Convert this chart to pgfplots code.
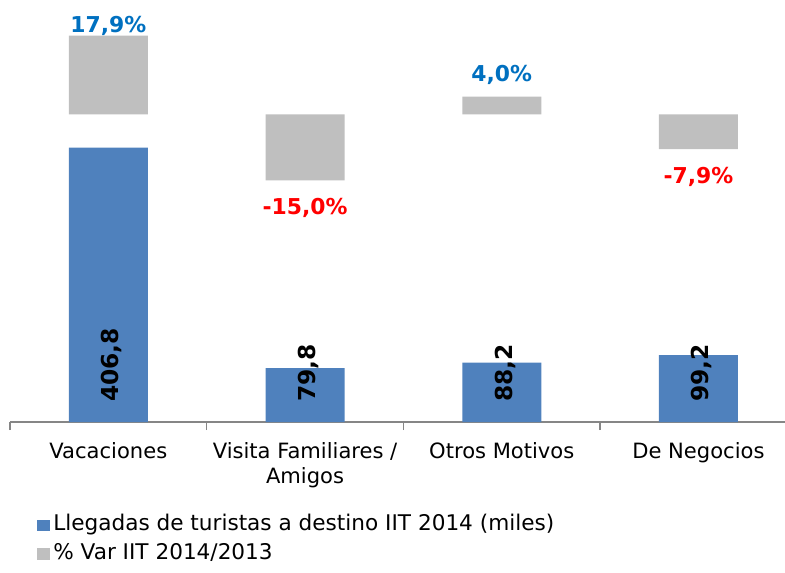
\documentclass[border=0pt]{standalone}
\usepackage{pgfplots}
\pgfplotsset{compat=1.18}
\usepackage{pgfplotstable}
\usepackage{fontspec}
\setmainfont{DejaVu Sans}
\definecolor{barblue}{HTML}{4F81BD}
\definecolor{bargray}{HTML}{BFBFBF}
\definecolor{axgray}{HTML}{868686}
\definecolor{posblue}{HTML}{0070C0}
\definecolor{negred}{HTML}{FF0000}
\newcommand{\lbl}{\fontsize{15.8pt}{18.75pt}\selectfont}
\newcommand{\leg}{\fontsize{16.2pt}{19pt}\selectfont}
\newcommand{\pct}{\fontsize{16.4pt}{19pt}\selectfont\bfseries}
\newcommand{\rotf}{\fontsize{17.5pt}{20pt}\selectfont\bfseries}

\pgfplotstableread{
x val lab base
0 406.8 406,8 0
1 79.8 79,8 0
2 88.2 88,2 0
3 99.2 99,2 0
}\arrivals
\pgfplotstableread{
x val
0 17.9
1 -15.0
2 4.0
3 -7.9
}\pctdata
\pgfplotstableread{
x val lab
0 17.9 17,9
}\pctA
\pgfplotstableread{
x val lab
2 4.0 4,0
}\pctB
\pgfplotstableread{
x val lab
1 -15.0 -15,0
3 -7.9 -7,9
}\pctC

\begin{document}
\begin{tikzpicture}
\path[use as bounding box] (0,0) rectangle (588.75pt,429pt);
\pgfplotsset{base/.style={scale only axis, width=581.25pt, height=301.5pt,
  at={(7.5pt,112.5pt)}, anchor=south west, xmin=-0.5, xmax=3.44,
  clip=false}}
\begin{axis}[base, ymin=0, ymax=596.2,
  axis y line=none, axis x line*=bottom,
  x axis line style={draw=axgray, line width=1pt, -},
  xtick={0,1,2,3},
  xticklabels={Vacaciones,{Visita Familiares /\\Amigos},Otros Motivos,De Negocios},
  major tick length=0pt,
  minor xtick={-0.5,0.5,1.5,2.5},
  minor tick length=6pt,
  minor x tick style={draw=axgray, line width=1pt},
  tick align=outside,
  xticklabel style={font=\lbl, align=center, anchor=north, inner sep=0pt, yshift=-15pt},
  legend style={at={(axis description cs:0.0345,-0.2338)}, anchor=north west,
    draw=none, fill=none, inner sep=0pt, row sep=7.45pt, column sep=2.3pt,
    font=\leg, nodes={inner sep=0pt, text height=11pt, text depth=3pt}},
  legend cell align=left,
  legend image code/.code={\fill[#1] (0pt,-4.2pt) rectangle (9.9pt,4.4pt);},
]
\addplot[ybar, bar width=59.25pt, bar shift=0pt, fill=barblue, draw=none]
  table[x=x, y=val] {\arrivals};
\addlegendentry{Llegadas de turistas a destino IIT 2014 (miles)}
\addplot[ybar, bar width=59.25pt, bar shift=0pt, draw=none, fill=none, forget plot,
  point meta=explicit symbolic, nodes near coords,
  every node near coord/.append style={font=\rotf, text=black, inner sep=0pt,
    anchor=base west, xshift=7.9pt, yshift=15pt, rotate=90}]
  table[x=x, y=base, meta=lab] {\arrivals};
\addlegendimage{fill=bargray, draw=none}
\addlegendentry{\% Var IIT 2014/2013}
\end{axis}
\begin{axis}[base, ymin=-69.93, ymax=21.43, hide axis]
\addplot[ybar, bar width=59.25pt, bar shift=0pt, fill=bargray, draw=none]
  table[x=x, y=val] {\pctdata};
\addplot[ybar, bar width=59.25pt, bar shift=0pt, draw=none, fill=none,
  point meta=explicit symbolic, nodes near coords={\pgfplotspointmeta\%},
  every node near coord/.append style={font=\pct, text=posblue, anchor=base, yshift=2.55pt}]
  table[x=x, y=val, meta=lab] {\pctA};
\addplot[ybar, bar width=59.25pt, bar shift=0pt, draw=none, fill=none,
  point meta=explicit symbolic, nodes near coords={\pgfplotspointmeta\%},
  every node near coord/.append style={font=\pct, text=posblue, anchor=base, yshift=11.25pt}]
  table[x=x, y=val, meta=lab] {\pctB};
\addplot[ybar, bar width=59.25pt, bar shift=0pt, draw=none, fill=none,
  point meta=explicit symbolic, nodes near coords={\pgfplotspointmeta\%},
  every node near coord/.append style={font=\pct, text=negred, anchor=base, yshift=-26pt}]
  table[x=x, y=val, meta=lab] {\pctC};
\end{axis}
\end{tikzpicture}
\end{document}
